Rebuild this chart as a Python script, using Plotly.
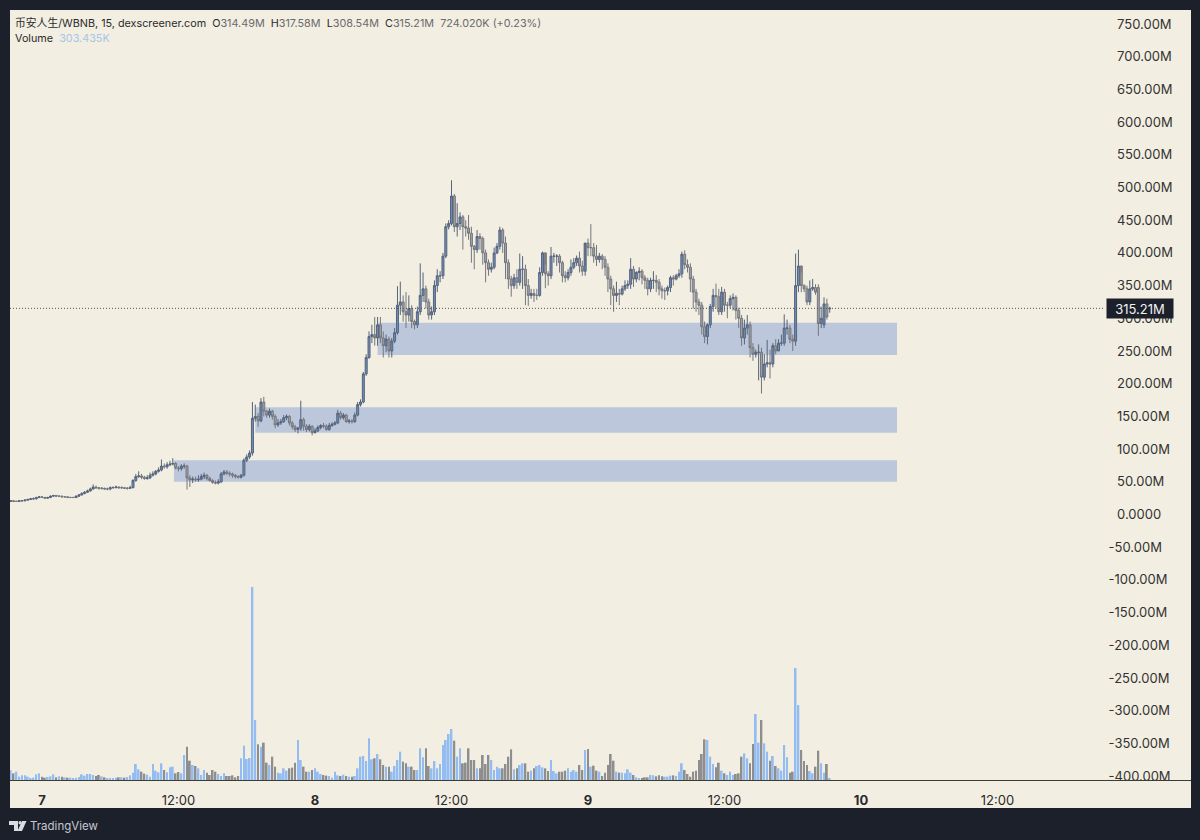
import plotly.graph_objects as go
import pandas as pd

# 15 minute candles, prices in millions
times = pd.date_range('2025-10-06 21:15', '2025-10-09 21:15', freq='15min')

opens = [
    20,21,20,20,21,21,22,23,24,24,
    26,27,26,25,26,28,29,28,28,27,
    27,26,26,26,28,30,32,34,36,39,
    42,41,40,40,39,39,41,41,42,41,
    41,40,40,41,52,58,59,57,55,56,
    60,62,66,68,74,73,76,77,78,71,
    70,74,74,56,53,54,53,54,58,60,
    55,52,49,48,50,62,65,63,62,60,
    58,57,60,83,88,94,147,150,143,172,
    158,152,158,150,137,140,142,148,150,140,
    134,130,132,145,135,130,135,125,128,133,
    136,135,130,136,138,140,155,148,152,142,
    143,142,152,168,172,215,240,272,275,270,
    290,270,258,268,250,265,278,320,325,310,
    305,315,295,290,310,335,345,325,305,310,
    350,365,365,395,440,445,487,440,445,455,
    440,438,430,410,405,425,422,400,385,375,
    378,400,410,435,415,385,360,350,362,355,
    375,375,350,335,338,335,335,370,400,368,
    365,395,395,395,385,365,362,370,378,385,
    392,380,372,415,408,408,395,390,395,390,
    378,360,345,335,338,337,345,350,352,375,
    360,370,372,362,358,345,358,358,355,345,
    342,342,347,362,360,365,368,398,382,378,
    360,340,325,320,287,272,290,318,335,333,
    310,340,320,320,330,332,312,300,270,285,
    290,255,245,248,248,210,230,232,230,258,
    250,262,262,285,285,268,265,350,380,350,
    345,325,345,347,347,292,290,322,314.49,
]
highs = [
    22,22,21,22,22,23,24,25,26,27,
    28,28,27,27,29,30,30,29,29,28,
    28,27,27,29,31,34,36,38,41,46,
    44,42,42,41,41,43,43,44,43,43,
    42,42,44,54,62,66,62,59,60,64,
    66,68,72,84,78,80,82,86,80,74,
    77,78,76,60,58,58,60,62,64,62,
    58,54,52,54,65,68,68,66,64,62,
    60,62,86,92,98,172,168,155,178,180,
    160,162,160,153,146,146,152,153,152,143,
    137,134,174,148,138,138,136,132,136,138,
    140,138,140,141,143,160,158,155,154,146,
    146,156,172,176,218,245,280,290,302,302,
    302,280,275,272,270,285,349,356,335,340,
    335,320,298,318,384,370,350,330,318,358,
    375,372,400,445,450,511,490,476,462,458,
    450,458,440,412,435,430,425,405,390,385,
    408,415,440,438,425,390,365,368,375,399,
    395,382,360,345,345,345,378,402,382,372,
    409,400,398,398,388,372,375,390,392,396,
    402,388,380,422,444,415,412,400,398,395,
    384,365,350,356,345,350,358,358,392,380,
    372,378,375,366,362,362,372,366,360,350,
    347,350,365,366,368,375,402,404,390,384,
    365,345,330,325,295,292,322,345,353,345,
    348,345,325,335,338,335,316,305,298,305,
    295,262,252,260,255,245,267,252,262,268,
    268,275,306,298,290,275,399,405,370,352,
    350,358,360,352,352,318,332,330,317.58,
]
lows = [
    19,19,19,19,20,20,21,22,23,23,
    25,25,24,24,25,27,27,27,26,26,
    25,25,25,25,27,29,31,33,35,38,
    39,38,38,38,37,37,40,40,39,39,
    39,38,39,40,50,56,54,53,53,54,
    58,60,64,66,70,70,74,75,69,66,
    67,70,38,42,48,50,50,52,54,52,
    50,47,46,46,48,60,60,58,56,55,
    55,55,58,80,85,90,142,134,141,150,
    148,148,145,132,134,137,140,144,136,130,
    126,124,128,128,126,127,121,124,126,130,
    132,128,128,134,136,138,145,145,140,139,
    139,140,150,165,170,212,238,262,258,258,
    262,240,248,240,240,262,275,305,295,285,
    295,285,283,285,305,325,315,298,298,305,
    340,355,360,392,436,442,432,425,435,405,
    425,420,385,375,400,405,382,355,365,370,
    375,398,405,400,360,345,333,345,345,350,
    345,320,319,330,325,328,333,365,346,350,
    360,385,380,370,355,355,358,365,375,380,
    370,365,365,395,395,385,380,385,375,365,
    340,320,310,325,320,335,342,345,345,348,
    355,358,352,345,335,340,345,340,335,330,
    328,335,340,350,358,362,362,375,370,340,
    315,310,305,275,262,260,285,310,315,305,
    305,310,300,315,312,298,285,258,260,275,
    240,235,240,205,185,205,225,208,225,245,
    250,258,258,275,262,250,258,340,340,340,
    320,320,342,336,273,285,285,298,308.54,
]
closes = [
    21,20,20,21,21,22,23,24,24,26,
    27,26,25,26,28,29,28,28,27,27,
    26,26,26,28,30,32,34,36,39,42,
    41,40,40,39,39,41,41,42,41,41,
    40,40,41,52,58,59,57,55,56,60,
    62,66,68,74,73,76,77,78,71,70,
    74,74,56,53,54,53,54,58,60,55,
    52,49,48,50,62,65,63,62,60,58,
    57,60,83,88,94,147,150,143,172,158,
    152,158,150,137,140,142,148,150,140,134,
    130,132,145,135,130,135,125,128,133,136,
    135,130,136,138,140,155,148,152,142,143,
    142,152,168,172,215,240,272,275,270,290,
    270,258,268,250,265,278,320,325,310,305,
    315,295,290,310,335,345,325,305,310,350,
    365,365,395,440,445,487,440,445,455,440,
    438,430,410,405,425,422,400,385,375,378,
    400,410,435,415,385,360,350,362,355,375,
    375,350,335,338,335,335,370,400,368,365,
    395,395,395,385,365,362,370,378,385,392,
    380,372,415,408,408,395,390,395,390,378,
    360,345,335,338,337,345,350,352,375,360,
    370,372,362,358,345,358,358,355,345,342,
    342,347,362,360,365,368,398,382,378,360,
    340,325,320,287,272,290,318,335,333,310,
    340,320,320,330,332,312,300,270,285,290,
    255,245,248,248,210,230,232,230,258,250,
    262,262,285,285,268,265,350,380,350,345,
    325,345,347,340,292,300,322,302,315.21,
]
# thousands
volumes = [
    1500,1000,1250,500,700,700,500,250,350,850,
    1000,500,350,450,550,850,400,550,500,400,
    350,350,300,350,450,850,650,900,900,750,
    600,750,550,400,300,250,300,350,400,400,
    350,450,700,1100,2400,1600,1250,950,800,500,
    2400,1400,1150,2500,1500,1150,1900,2000,1000,1200,
    1000,3750,5000,2900,2250,2100,1750,750,1500,1100,
    750,1500,1250,900,600,1000,600,600,700,400,
    600,3250,5150,3150,3300,28950,9000,5350,5000,5600,
    2600,2250,3500,2000,1100,1000,1750,1400,1750,1850,
    2600,6000,3000,2000,1250,1250,1500,1750,1250,900,
    750,650,600,350,1250,700,600,800,600,500,
    500,600,1750,3500,3600,2850,6250,3100,3250,3900,
    3100,2250,2000,2000,1250,2100,3000,4250,2750,2500,
    2000,2000,1500,1500,4750,3400,4750,2100,1750,2850,
    1750,2400,5250,6000,6900,7650,5900,3500,4750,2500,
    2600,4750,3000,3000,1750,1750,3750,2400,3750,3000,
    1500,2000,1750,1750,2400,3500,4600,1600,1750,2250,
    2500,2500,1250,1400,1750,2100,2250,1900,1750,1350,
    3000,1350,1000,1250,1250,1400,1750,1250,1500,1250,
    2250,1500,4500,4650,2000,2150,1400,1250,600,1100,
    2250,3900,2900,1250,1100,1100,1000,1600,1100,750,
    400,200,300,400,400,750,700,550,700,550,
    500,500,650,700,600,1250,2500,1500,900,500,
    1250,1400,3000,3900,6100,6000,3500,2400,1900,2600,
    1400,1000,750,1250,750,900,1000,3500,4000,3250,
    2500,5400,9900,5600,9000,5500,4250,2900,3600,2100,
    1750,1400,5250,3400,1100,1250,16800,11250,4500,2850,
    2250,1350,1000,2000,4400,2500,1100,2400,303,
]

# supply zones on the chart: start, end, bottom, top
zone_starts = ['2025-10-08 05:30', '2025-10-07 18:45', '2025-10-07 11:36']
zone_end = '2025-10-10 03:10'
zone_bottoms = [244, 125, 50]
zone_tops = [293, 164, 83]

price_ticks = list(range(-400, 751, 50))
price_labels = ['\u2007%.2fM' % v if v > 0 else '%.2fM' % v for v in price_ticks]
price_labels[price_ticks.index(0)] = '\u20070.0000'

time_ticks = ['2025-10-07 00:00', '2025-10-07 12:00', '2025-10-08 00:00', '2025-10-08 12:00',
              '2025-10-09 00:00', '2025-10-09 12:00', '2025-10-10 00:00', '2025-10-10 12:00']
time_labels = ['<b>7</b>', '12:00', '<b>8</b>', '12:00', '<b>9</b>', '12:00', '<b>10</b>', '12:00']

last_price = 315.21

DARK = '#1c202b'
CREAM = '#f2eee2'
FONT = 'Inter, "Noto Sans CJK SC", sans-serif'

# page layout in pixels, used for the things that live outside the axes
PLOT_L, PLOT_R, PLOT_T, PLOT_B = 10, 1105, 10, 780


def paper_x(px):
    return (px - PLOT_L) / (PLOT_R - PLOT_L)


def paper_y(py):
    return (PLOT_B - py) / (PLOT_B - PLOT_T)


def logo_path(points):
    return 'M' + ' L'.join('%.5f,%.5f' % (paper_x(x), paper_y(y)) for x, y in points) + ' Z'


fig = go.Figure()
bar_colors = ['#93bdf2' if c >= o else '#8e8e8e' for o, c in zip(opens, closes)]
fig.add_trace(go.Bar(x=times, y=volumes, yaxis='y2', width=560000,
                     marker=dict(color=bar_colors, line_width=0), hoverinfo='skip'))
fig.add_trace(go.Candlestick(
    x=times, open=opens, high=highs, low=lows, close=closes,
    whiskerwidth=0,
    increasing=dict(line=dict(color='#55647c', width=1), fillcolor='#6e8db8'),
    decreasing=dict(line=dict(color='#74777d', width=1), fillcolor='#a0a2a6'),
))

shapes = [
    dict(type='rect', xref='paper', yref='paper', layer='below', line_width=0, fillcolor=CREAM,
         x0=paper_x(10), x1=paper_x(1191), y0=paper_y(808), y1=paper_y(10)),
    dict(type='line', xref='paper', yref='paper', line=dict(color='#3c3c36', width=1),
         x0=paper_x(10), x1=paper_x(1191), y0=paper_y(780.5), y1=paper_y(780.5)),
    dict(type='line', xref='paper', yref='y', line=dict(color='#50535a', width=1, dash='1px,2px'),
         x0=0, x1=1, y0=last_price, y1=last_price),
    # TradingView mark
    dict(type='path', xref='paper', yref='paper', fillcolor='#d9dce2', line_width=0,
         path=logo_path([(9, 821), (18, 821), (18, 831), (14, 831), (14, 825), (9, 825)])),
    dict(type='circle', xref='paper', yref='paper', fillcolor='#d9dce2', line_width=0,
         x0=paper_x(18.5), x1=paper_x(21.5), y0=paper_y(824.5), y1=paper_y(821)),
    dict(type='path', xref='paper', yref='paper', fillcolor='#d9dce2', line_width=0,
         path=logo_path([(22, 821), (26.5, 821), (22, 831), (17.5, 831)])),
]
for start, bottom, top in zip(zone_starts, zone_bottoms, zone_tops):
    shapes.append(dict(type='rect', xref='x', yref='y', layer='below', line_width=0,
                       fillcolor='#bcc7dc', x0=start, x1=zone_end, y0=bottom, y1=top))

legend_one = ('币安人生/WBNB, 15, dexscreener.com  '
              'O<span style="color:#6b6b6b">314.49M</span>  '
              'H<span style="color:#6b6b6b">317.58M</span>  '
              'L<span style="color:#6b6b6b">308.54M</span>  '
              'C<span style="color:#6b6b6b">315.21M</span>  '
              '<span style="color:#6b6b6b">724.020K (+0.23%)</span>')
legend_two = 'Volume  <span style="color:#a6c6ea">303.435K</span>'

annotations = [
    dict(text=legend_one, xref='paper', yref='paper', x=paper_x(13), y=paper_y(23), xanchor='left',
         yanchor='middle', showarrow=False, font=dict(family=FONT, size=10.8, color='#2b2b2b')),
    dict(text=legend_two, xref='paper', yref='paper', x=paper_x(13), y=paper_y(38.5), xanchor='left',
         yanchor='middle', showarrow=False, font=dict(family=FONT, size=10.8, color='#2b2b2b')),
    dict(text='%.2fM' % last_price, xref='paper', yref='y', x=1, y=last_price, xanchor='left',
         yanchor='middle', xshift=1, showarrow=False, bgcolor=DARK, width=64, height=17,
         font=dict(family=FONT, size=13, color='#f0f0f0')),
    dict(text='TradingView', xref='paper', yref='paper', x=paper_x(28), y=paper_y(825.5), xanchor='left',
         yanchor='middle', showarrow=False, font=dict(family=FONT, size=11.5, color='#c4c8d0')),
]

fig.update_layout(
    width=1200, height=840,
    margin=dict(l=PLOT_L, r=1200 - PLOT_R, t=PLOT_T, b=840 - PLOT_B),
    paper_bgcolor=DARK,
    plot_bgcolor='rgba(0,0,0,0)',
    showlegend=False,
    boxgap=0,
    shapes=shapes,
    annotations=annotations,
    xaxis=dict(
        range=['2025-10-06 21:11:15', '2025-10-10 21:27:00'],
        rangeslider_visible=False, showgrid=False, zeroline=False,
        tickvals=time_ticks, ticktext=time_labels, tickangle=0,
        ticks='outside', ticklen=8, tickcolor='rgba(0,0,0,0)',
        tickfont=dict(family=FONT, size=13, color='#2a2a2a'),
    ),
    yaxis=dict(
        range=[-406, 771.4], side='right', showgrid=False, zeroline=False,
        tickvals=price_ticks, ticktext=price_labels,
        ticks='outside', ticklen=0,
        tickfont=dict(family=FONT, size=13, color='#333333'),
    ),
    yaxis2=dict(range=[0, 115500], overlaying='y', visible=False),
)

fig.write_html('out.html', post_script="document.body.style.margin='0';", config=dict(displayModeBar=False))
